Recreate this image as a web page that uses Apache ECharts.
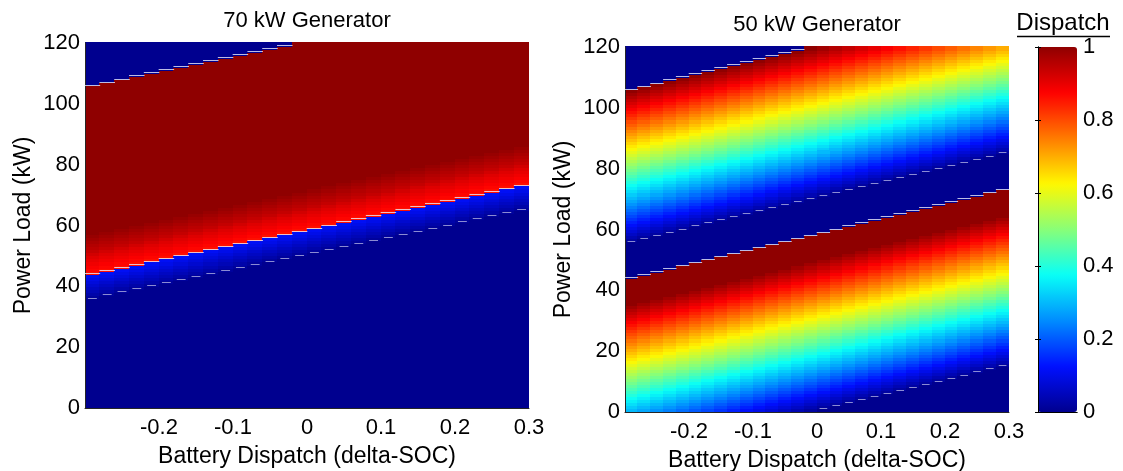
<!DOCTYPE html>
<html><head><meta charset="utf-8">
<script src="https://cdn.jsdelivr.net/npm/echarts@6/dist/echarts.min.js"></script>
<style>html,body{margin:0;padding:0;background:#fff}#c{width:1123px;height:471px}</style>
</head><body><div id="c"></div>
<script>
// Cell centres of battery dispatch (delta-SOC), 30 columns of width 0.02
const batteryCells = [-0.29,-0.27,-0.25,-0.23,-0.21,-0.19,-0.17,-0.15,-0.13,-0.11,
  -0.09,-0.07,-0.05,-0.03,-0.01,0.01,0.03,0.05,0.07,0.09,
  0.11,0.13,0.15,0.17,0.19,0.21,0.23,0.25,0.27,0.29];
// load rows 0..119 kW (1 kW each)
const loadRowCount = 120;
// dispatch read along net load (load - 50*deltaSOC), from -15 kW to 135 kW in 1 kW steps
const netLoadStart = -15;
const gen70Profile = [
  0,0,0,0,0,0,0,0,0,0, 0,0,0,0,0,0,0,0,0,0, 0,0,0,0,0,0,0,0,0,0,
  0,0,0,0,0,0,0,0,0,0, 0,0,0,0,0,0,0,0,0,0, 0,0,0,0,0,0,0,0,0,0,
  0,0,0,0,0,0,
  0.014,0.029,0.043,0.057,0.071,0.086,0.100,0.114,
  0.860,0.870,0.880,0.890,0.900,0.910,0.925,0.940,0.950,0.960,0.970,0.980,0.990,
  1,1,1,1,1,1,1,1,1,1, 1,1,1,1,1,1,1,1,1,1, 1,1,1,1,1,1,1,1,1,1,
  1,1,1,1,1,1,1,1,1,1, 1,1,1,1,1,1,1,1,1,
  0,0,0,0,0,0,0,0,0,0, 0,0,0,0,0
];
const gen50Profile = [
  0,0,0,0,0,0,0,0,0,0, 0,0,0,0,0,0,
  0.02,0.04,0.06,0.08,0.10,0.12,0.14,0.16,0.18,0.20,
  0.22,0.24,0.26,0.28,0.30,0.32,0.34,0.36,0.38,0.40,
  0.42,0.44,0.46,0.48,0.50,0.52,0.54,0.56,0.58,0.60,
  0.62,0.64,0.66,0.68,0.70,0.72,0.74,0.76,0.78,0.80,
  0.82,0.84,0.86,0.88,0.90,0.92,0.94,0.96,0.98,1.00,
  1,1,1,1,1,1,1,1,
  0,0,0,0,0,0,0,0,0,0, 0,0,
  0.02,0.04,0.06,0.08,0.10,0.12,0.14,0.16,0.18,0.20,
  0.22,0.24,0.26,0.28,0.30,0.32,0.34,0.36,0.38,0.40,
  0.42,0.44,0.46,0.48,0.50,0.52,0.54,0.56,0.58,0.60,
  0.62,0.64,0.66,0.68,0.70,0.72,0.74,0.76,0.78,0.80,
  0.82,0.84,0.86,0.88,0.90,0.92,0.94,0.96,0.98,1.00,
  0,0,0,0,0,0,0,0,0,0, 0,0,0,0,0
];
const batteryTicks = [-0.2, -0.1, 0, 0.1, 0.2, 0.3];
const loadTicks = [0, 20, 40, 60, 80, 100, 120];
const dispatchTicks = [0, 0.2, 0.4, 0.6, 0.8, 1];
const titles = ['70 kW Generator', '50 kW Generator'];
const jet = ['#00008F','#0010FF','#008CFF','#08FFF7','#88FF78','#FFF800','#FF7B00','#FE0000','#8F0000'];

const FONT = '"Liberation Sans", Arial, Helvetica, sans-serif';
const loadRows = Array.from({length: loadRowCount}, (_, j) => String(j + 0.5));

function lookup(profile, i, j) {
  // net load = load - 50 * deltaSOC at the cell's lower-left corner
  const net = j - i + 15;
  return profile[net - netLoadStart];
}
function cells(profile) {
  const out = [];
  for (let i = 0; i < batteryCells.length; i++)
    for (let j = 0; j < loadRowCount; j++) out.push([i, j, lookup(profile, i, j)]);
  return out;
}
function seams(profile) {
  const out = [];
  for (let i = 0; i < batteryCells.length; i++)
    for (let j = 1; j < loadRowCount; j++) {
      const a = lookup(profile, i, j - 1), b = lookup(profile, i, j);
      const big = Math.abs(a - b) > 0.3;
      if (((a === 0) !== (b === 0)) || big) {
        const h = big ? 0.0105 : 0.006;
        out.push([batteryCells[i] - h, batteryCells[i] + h, j, big ? 1 : 0]);
      }
    }
  return out;
}
function tickFmt(ticks) {
  return v => ticks.some(t => Math.abs(t - v) < 1e-6) ? String(+v.toFixed(2)) : '';
}

const grids = [
  {left: 85, top: 43, width: 444, height: 365, outerBoundsMode: 'none', containLabel: false},
  {left: 625, top: 47, width: 384, height: 365, outerBoundsMode: 'none', containLabel: false},
  {left: 1038, top: 47, width: 39, height: 365, outerBoundsMode: 'none', containLabel: false}
];
const axisLine = {show: true, lineStyle: {color: '#262626', width: 1}};
const labelStyle = {color: '#000', fontSize: 22, fontFamily: FONT};
const nameStyle = {color: '#000', fontSize: 23, fontFamily: FONT};

const xAxis = [], yAxis = [];
[0, 1].forEach(g => {
  xAxis.push({type: 'category', gridIndex: g, data: batteryCells.map(String), show: false});
  xAxis.push({type: 'value', gridIndex: g, min: -0.3, max: 0.3, interval: 0.1, position: 'bottom', z: 3,
    axisLine, axisTick: {show: false}, splitLine: {show: false}, showMinLabel: false,
    axisLabel: Object.assign({margin: 9, formatter: tickFmt(batteryTicks)}, labelStyle),
    name: 'Battery Dispatch (delta-SOC)', nameLocation: 'middle', nameGap: 37, nameTextStyle: nameStyle});
  yAxis.push({type: 'category', gridIndex: g, data: loadRows, show: false});
  yAxis.push({type: 'value', gridIndex: g, min: 0, max: 120, interval: 20, position: 'left', z: 3,
    axisLine, axisTick: {show: false}, splitLine: {show: false},
    axisLabel: Object.assign({margin: 5, formatter: tickFmt(loadTicks)}, labelStyle),
    name: 'Power Load (kW)', nameLocation: 'middle', nameGap: 50, nameRotate: 90, nameTextStyle: nameStyle});
});
// colour bar frame and ticks
xAxis.push({type: 'value', gridIndex: 2, min: 0, max: 1, position: 'bottom', z: 10,
  axisLine: {show: true, lineStyle: {color: '#000'}}, axisTick: {show: false}, axisLabel: {show: false}, splitLine: {show: false}});
xAxis.push({type: 'value', gridIndex: 2, min: 0, max: 1, position: 'top', z: 10,
  axisLine: {show: true, lineStyle: {color: '#000'}}, axisTick: {show: false}, axisLabel: {show: false}, splitLine: {show: false}});
yAxis.push({type: 'value', gridIndex: 2, min: 0, max: 1, interval: 0.2, position: 'right', z: 10,
  axisLine: {show: true, lineStyle: {color: '#000'}}, splitLine: {show: false},
  axisTick: {show: true, inside: true, length: 3, lineStyle: {color: '#000'}},
  axisLabel: Object.assign({margin: 6, formatter: tickFmt(dispatchTicks)}, labelStyle)});
yAxis.push({type: 'value', gridIndex: 2, min: 0, max: 1, interval: 0.2, position: 'left', z: 10,
  axisLine: {show: true, lineStyle: {color: '#000'}}, splitLine: {show: false},
  axisTick: {show: true, inside: true, length: 3, lineStyle: {color: '#000'}}, axisLabel: {show: false}});

const cellSeries = (profile, xi, yi) => ({
  type: 'custom', xAxisIndex: xi, yAxisIndex: yi, data: cells(profile), silent: true, z: 2,
  encode: {x: 0, y: 1},
  renderItem: (params, api) => {
    const c = api.coord([api.value(0), api.value(1)]);
    const s = api.size([1, 1]);
    const x0 = Math.floor(c[0] - s[0] / 2), x1 = Math.ceil(c[0] + s[0] / 2);
    const y0 = Math.floor(c[1] - s[1] / 2), y1 = Math.ceil(c[1] + s[1] / 2);
    return {type: 'rect', shape: {x: x0, y: y0, width: x1 - x0, height: y1 - y0},
      style: {fill: api.visual('color')}};
  }
});
const seamSeries = (profile, xi, yi) => ({
  type: 'custom', xAxisIndex: xi, yAxisIndex: yi, data: seams(profile), z: 4, silent: true,
  encode: {x: [0, 1], y: 2},
  renderItem: (params, api) => {
    const p1 = api.coord([api.value(0), api.value(2)]);
    const p2 = api.coord([api.value(1), api.value(2)]);
    const big = api.value(3) === 1;
    return {type: 'line', shape: {x1: p1[0], y1: Math.round(p1[1]) - 0.5, x2: p2[0], y2: Math.round(p2[1]) - 0.5},
      style: {stroke: big ? 'rgba(235,235,250,0.8)' : 'rgba(185,185,230,0.75)', lineWidth: 1}};
  }
});

const chart = echarts.init(document.getElementById('c'), null, {renderer: 'canvas'});
chart.setOption({
  animation: false,
  backgroundColor: '#fff',
  grid: grids,
  xAxis, yAxis,
  visualMap: {type: 'continuous', min: 0, max: 1, seriesIndex: [0, 1], dimension: 2, calculable: false,
    orient: 'vertical', left: 1038, top: 47, itemWidth: 39, itemHeight: 365, padding: 0,
    inRange: {color: jet}, text: null, showLabel: false},
  series: [
    cellSeries(gen70Profile, 0, 0),
    cellSeries(gen50Profile, 2, 2),
    seamSeries(gen70Profile, 1, 1),
    seamSeries(gen50Profile, 3, 3)
  ],
  graphic: [
    {type: 'text', x: 307, y: 21, style: {text: titles[0], font: '22px ' + FONT, fill: '#000', align: 'center', verticalAlign: 'middle'}},
    {type: 'text', x: 817, y: 25, style: {text: titles[1], font: '22px ' + FONT, fill: '#000', align: 'center', verticalAlign: 'middle'}},
    {type: 'text', x: 1063, y: 23, style: {text: 'Dispatch', font: '24px ' + FONT, fill: '#000', align: 'center', verticalAlign: 'middle'}},
    {type: 'line', shape: {x1: 1017, y1: 36.5, x2: 1110, y2: 36.5}, style: {stroke: '#000', lineWidth: 1.5}}
  ]
});
</script></body></html>
